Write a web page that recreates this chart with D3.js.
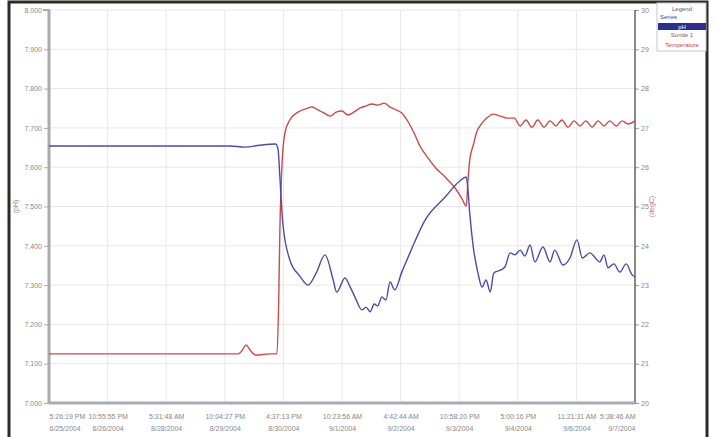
<!DOCTYPE html>
<html>
<head>
<meta charset="utf-8">
<script src="https://cdn.jsdelivr.net/npm/d3@7"></script>
<style>
  body { margin: 0; background: #fff; }
  svg { display: block; font-family: "Liberation Sans", Arial, sans-serif; }
  .tick text { fill: #888; font-size: 7px; }
</style>
</head>
<body>
<div id="chart"></div>
<script>
// sample index along the logger record (ticks every 100 samples)
const xTickTimes = ['5:26:19 PM', '10:55:55 PM', '5:31:48 AM', '10:04:27 PM', '4:37:13 PM', '10:23:56 AM',
    '4:42:44 AM', '10:58:20 PM', '5:00:16 PM', '11:21:31 AM', '5:38:46 AM'];
const xTickDates = ['6/25/2004', '6/26/2004', '8/28/2004', '8/29/2004', '8/30/2004', '9/1/2004',
    '9/2/2004', '9/3/2004', '9/4/2004', '9/6/2004', '9/7/2004'];
const phTicks = [7.0, 7.1, 7.2, 7.3, 7.4, 7.5, 7.6, 7.7, 7.8, 7.9, 8.0];
const tempTicks = [20, 21, 22, 23, 24, 25, 26, 27, 28, 29, 30];
const legendRows = ['Series', 'pH', 'Sonde 1', 'Temperature'];

const phSamples = [0, 172, 309, 334, 360, 387, 391, 394, 399, 411, 428, 442, 456, 471, 485, 491, 505, 514, 522, 534,
    541, 548, 555, 561, 568, 575, 582, 590, 602, 616, 642, 676, 701, 712, 715, 718, 724, 732, 739, 746,
    753, 759, 770, 778, 787, 795, 804, 812, 821, 829, 843, 855, 863, 877, 889, 901, 910, 923, 940, 947,
    954, 964, 974, 985, 995, 1000];
const phValues = [7.654, 7.654, 7.654, 7.651, 7.656, 7.659, 7.644, 7.575, 7.458, 7.364, 7.323, 7.300, 7.331, 7.377, 7.313, 7.282, 7.318, 7.295, 7.270, 7.237,
    7.244, 7.232, 7.252, 7.247, 7.270, 7.262, 7.308, 7.288, 7.333, 7.382, 7.466, 7.524, 7.565, 7.575, 7.542, 7.483, 7.397, 7.331, 7.295, 7.313,
    7.282, 7.331, 7.338, 7.346, 7.382, 7.377, 7.389, 7.374, 7.402, 7.359, 7.397, 7.359, 7.389, 7.351, 7.369, 7.415, 7.369, 7.382, 7.359, 7.377,
    7.344, 7.354, 7.333, 7.354, 7.326, 7.321];

const tempSamples = [0, 172, 323, 331, 336, 343, 353, 377, 389, 392, 394, 398, 403, 411, 425, 437, 449, 459, 469, 480,
    490, 500, 510, 520, 531, 541, 551, 561, 572, 582, 592, 602, 613, 623, 633, 647, 660, 676, 693, 705,
    712, 715, 718, 724, 730, 739, 747, 758, 770, 782, 794, 804, 814, 824, 834, 845, 855, 865, 875, 886,
    896, 906, 916, 927, 937, 947, 957, 968, 978, 988, 1000];
const tempValues = [21.25, 21.25, 21.25, 21.37, 21.48, 21.35, 21.22, 21.25, 21.25, 22.62, 24.40, 26.18, 26.90, 27.20, 27.40, 27.48, 27.53, 27.46, 27.38, 27.30,
    27.40, 27.43, 27.33, 27.40, 27.51, 27.56, 27.61, 27.58, 27.63, 27.53, 27.46, 27.38, 27.15, 26.87, 26.54, 26.23, 25.98, 25.75, 25.47, 25.19,
    25.01, 25.67, 26.18, 26.56, 26.90, 27.12, 27.25, 27.35, 27.30, 27.25, 27.25, 27.05, 27.20, 27.02, 27.20, 27.02, 27.18, 27.05, 27.20, 27.02,
    27.18, 27.05, 27.18, 27.02, 27.18, 27.05, 27.18, 27.05, 27.18, 27.10, 27.18];

const W = 715, H = 437;
const margin = {top: 10, right: 80, bottom: 34, left: 49},
    width = W - margin.left - margin.right,
    height = H - margin.top - margin.bottom;

const svg = d3.select('#chart').append('svg')
    .attr('width', W)
    .attr('height', H);

// outer frame (bottom edge is cut off in the picture)
svg.append('path')
    .attr('d', `M9,${H} V2 H707 V${H}`)
    .attr('fill', 'none')
    .attr('stroke', '#2b2b22')
    .attr('stroke-width', 3);

const g = svg.append('g').attr('transform', `translate(${margin.left},${margin.top})`);

const x = d3.scaleLinear().domain([0, 1000]).range([0, width]);
const yL = d3.scaleLinear().domain([7, 8]).range([height, 0]);
const yR = d3.scaleLinear().domain([20, 30]).range([height, 0]);
const xTicks = d3.range(0, 1001, 100);

// grid
g.append('g').selectAll('line').data(phTicks).enter().append('line')
    .attr('x1', 0).attr('x2', width)
    .attr('y1', d => yL(d)).attr('y2', d => yL(d))
    .attr('stroke', '#e8e8ec').attr('stroke-width', 1);
g.append('g').selectAll('line').data(xTicks).enter().append('line')
    .attr('x1', d => x(d)).attr('x2', d => x(d))
    .attr('y1', 0).attr('y2', height)
    .attr('stroke', '#e8e8ec').attr('stroke-width', 1);

// left axis
const axL = g.append('g')
    .call(d3.axisLeft(yL).tickValues(phTicks).tickFormat(d3.format('.3f')).tickSize(5).tickPadding(2));
axL.select('.domain').remove();
axL.selectAll('.tick line').attr('stroke', '#aaa');

// right axis
const axR = g.append('g')
    .attr('transform', `translate(${width},0)`)
    .call(d3.axisRight(yR).tickValues(tempTicks).tickFormat(d3.format('d')).tickSize(4).tickPadding(2));
axR.select('.domain').remove();
axR.selectAll('.tick line').attr('stroke', '#999');
axR.selectAll('.tick text').attr('fill', '#b89090');

// bottom axis, two-line labels
const axB = g.append('g')
    .attr('transform', `translate(0,${height})`)
    .call(d3.axisBottom(x).tickValues(xTicks).tickSize(0).tickFormat(''));
axB.select('.domain').remove();
axB.selectAll('.tick').each(function(d, i) {
    const t = d3.select(this).append('text')
        .attr('fill', '#8a8a8a')
        .attr('font-size', 7)
        .attr('text-anchor', i === 0 ? 'start' : (i === xTicks.length - 1 ? 'end' : 'middle'));
    t.append('tspan').attr('x', 0).attr('y', 16).text(xTickTimes[i]);
    t.append('tspan').attr('x', 0).attr('y', 28).text(xTickDates[i]);
});

// axis lines
g.append('line').attr('x1', width).attr('x2', width).attr('y1', 0).attr('y2', height)
    .attr('stroke', '#666').attr('stroke-width', 1.5);
g.append('line').attr('x1', 0).attr('x2', width).attr('y1', height).attr('y2', height)
    .attr('stroke', '#aaaab4').attr('stroke-width', 3);
g.append('line').attr('x1', 0).attr('x2', 0).attr('y1', 0).attr('y2', height + 1)
    .attr('stroke', '#aaaab4').attr('stroke-width', 3);
g.append('line').attr('x1', -6).attr('x2', 1).attr('y1', 0).attr('y2', 0)
    .attr('stroke', '#aaaab4').attr('stroke-width', 2);

// axis titles
g.append('text')
    .attr('transform', `translate(${-31},${height / 2}) rotate(-90)`)
    .attr('text-anchor', 'middle').attr('font-size', 7).attr('fill', '#888')
    .text('(pH)');
g.append('text')
    .attr('transform', `translate(${width + 19},${height / 2}) rotate(-90)`)
    .attr('text-anchor', 'middle').attr('font-size', 7).attr('fill', '#c88080')
    .text('(degC)');

// series
const phLine = d3.line().curve(d3.curveMonotoneX).x((d, i) => x(phSamples[i])).y(d => yL(d));
const tempLine = d3.line().curve(d3.curveMonotoneX).x((d, i) => x(tempSamples[i])).y(d => yR(d));

g.append('path').datum(tempValues)
    .attr('d', tempLine)
    .attr('fill', 'none').attr('stroke', '#cc4a4a').attr('stroke-width', 1.4);
g.append('path').datum(phValues)
    .attr('d', phLine)
    .attr('fill', 'none').attr('stroke', '#4a4ca6').attr('stroke-width', 1.4);

// legend
const lg = svg.append('g').attr('transform', 'translate(657,3)');
lg.append('rect').attr('width', 49).attr('height', 48)
    .attr('fill', '#fff').attr('stroke', '#c8c8d0');
lg.append('text').attr('x', 25).attr('y', 8).attr('text-anchor', 'middle')
    .attr('font-size', 6).attr('fill', '#556').text('Legend');
lg.append('rect').attr('x', 1).attr('y', 20).attr('width', 48).attr('height', 7).attr('fill', '#2c2f8c');
lg.selectAll('.row').data(legendRows).enter().append('text')
    .attr('x', (d, i) => i === 0 ? 3 : 25)
    .attr('y', (d, i) => [16, 26, 34, 44][i])
    .attr('text-anchor', (d, i) => i === 0 ? 'start' : 'middle')
    .attr('font-size', 6)
    .attr('fill', (d, i) => ['#3d3f9e', '#fff', '#7a5a5a', '#c8403f'][i])
    .text(d => d);
</script>
</body>
</html>
